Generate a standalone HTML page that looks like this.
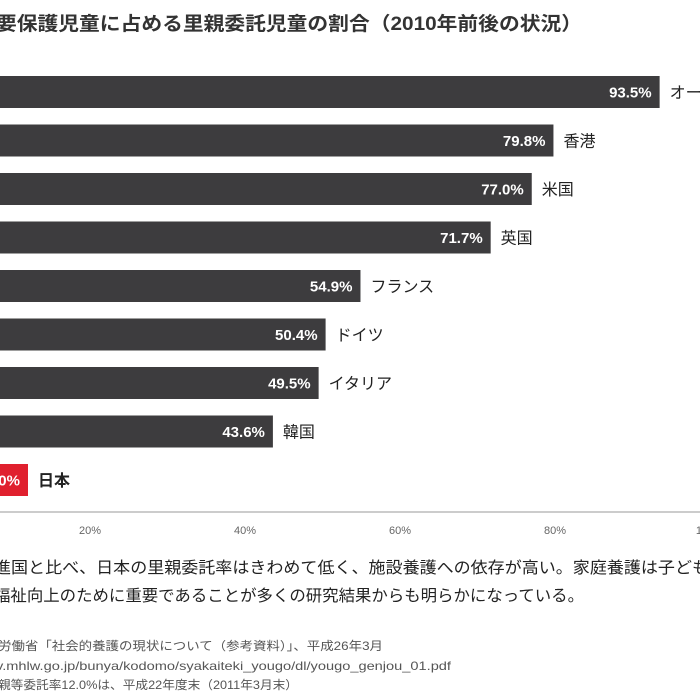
<!DOCTYPE html>
<html><head><meta charset="utf-8"><style>
html,body{margin:0;padding:0;background:#fff;width:700px;height:700px;overflow:hidden}
body{font-family:"Liberation Sans","Noto Sans CJK JP",sans-serif}
svg text{font-family:"Liberation Sans","Noto Sans CJK JP",sans-serif}
</style></head><body>
<svg width="700" height="700">
<text x="-4" y="30" font-size="19" font-weight="bold" fill="#333" textLength="586" lengthAdjust="spacingAndGlyphs">要保護児童に占める里親委託児童の割合（2010年前後の状況）</text>
<g id="bars"></g>
<line x1="0" y1="512" x2="700" y2="512" stroke="#ccc" stroke-width="2"/>
<g id="ticks"></g>
<text font-size="16" fill="#222"><tspan x="-6" y="573" textLength="715" lengthAdjust="spacingAndGlyphs">進国と比べ、日本の里親委託率はきわめて低く、施設養護への依存が高い。家庭養護は子ども</tspan><tspan x="-6" y="601" textLength="590" lengthAdjust="spacingAndGlyphs">福祉向上のために重要であることが多くの研究結果からも明らかになっている。</tspan></text>
<text font-size="12" fill="#555"><tspan x="-2" y="650" textLength="385" lengthAdjust="spacingAndGlyphs">労働省「社会的養護の現状について（参考資料）」、平成26年3月</tspan><tspan x="-4" y="670" textLength="455" lengthAdjust="spacingAndGlyphs">v.mhlw.go.jp/bunya/kodomo/syakaiteki_yougo/dl/yougo_genjou_01.pdf</tspan><tspan x="-2" y="689" textLength="300" lengthAdjust="spacingAndGlyphs">親等委託率12.0%は、平成22年度末（2011年3月末）</tspan></text>
</svg>
<script>
const countries=["オーストラリア","香港","米国","英国","フランス","ドイツ","イタリア","韓国","日本"];
const values=[93.5,79.8,77.0,71.7,54.9,50.4,49.5,43.6,12.0];
const tickValues=[20,40,60,80,100];
const tickLabels=["20%","40%","60%","80%","100%"];
const NS="http://www.w3.org/2000/svg";
const xs=v=>-65+v*7.75;
const yc=i=>92+i*48.5;
const g=document.getElementById('bars');
function mk(t,a,p){const e=document.createElementNS(NS,t);for(const k in a)e.setAttribute(k,a[k]);p.appendChild(e);return e;}
values.forEach((v,i)=>{
 const jp=countries[i]==="日本";
 const r=mk('rect',{x:0,y:yc(i)-16,width:Math.max(0,xs(v)),height:32,fill:jp?'#e0202e':'#3d3c3e'},g);
 
 
 const t=mk('text',{x:xs(v)-8,y:yc(i)+5.5,'text-anchor':'end','font-size':15,'font-weight':'bold',fill:'#fff'},g);
 t.textContent=v.toFixed(1)+'%';
 
 
 const l=mk('text',{x:xs(v)+10,y:yc(i)+6,'font-size':16,fill:'#222','font-weight':jp?'bold':'normal'},g);
 l.textContent=countries[i];
 
 
});
const tg=document.getElementById('ticks');
tickValues.forEach((v,i)=>{
 const t=mk('text',{x:xs(v),y:534,'text-anchor':'middle','font-size':11,fill:'#666'},tg);
 t.textContent=tickLabels[i];
 
 
});
</script>
</body></html>
